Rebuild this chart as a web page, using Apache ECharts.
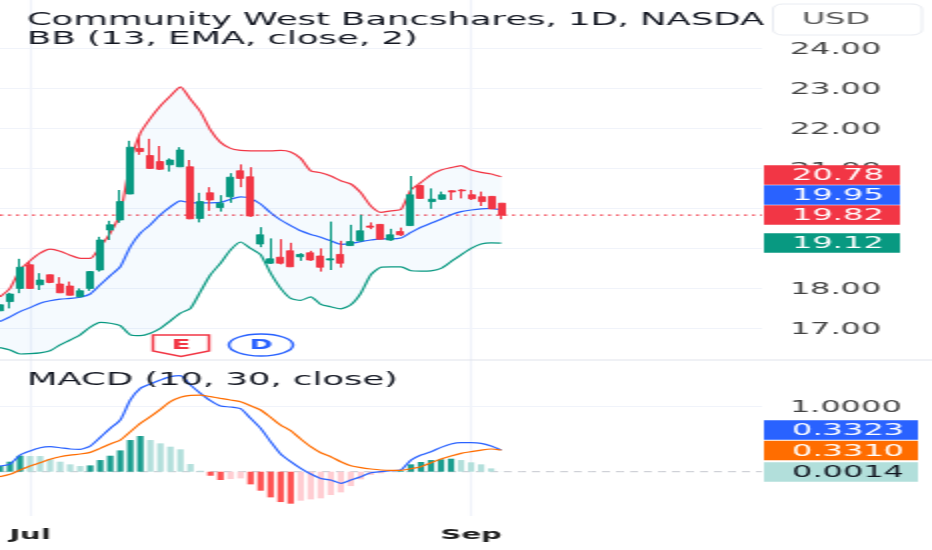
<!DOCTYPE html>
<html>
<head>
<meta charset="utf-8">
<style>
html,body{margin:0;padding:0;width:932px;height:550px;overflow:hidden;background:#fff}
#c{width:466px;height:550px;transform:scaleX(2);transform-origin:0 0}
</style>
<script src="https://cdn.jsdelivr.net/npm/echarts@6/dist/echarts.min.js"></script>
</head>
<body>
<div id="c"></div>
<script>
// [open, close, low, high]
const candles = [
[17.43,17.58,17.41,17.62],[17.66,17.85,17.49,17.88],[17.99,18.52,17.87,18.73],[18.58,17.99,17.99,18.66],
[18.08,18.20,17.95,18.37],[18.33,18.14,18.12,18.33],[18.10,17.88,17.88,18.27],[18.05,17.82,17.82,18.16],
[17.78,17.93,17.77,17.99],[17.99,18.41,17.93,18.42],[18.45,19.20,18.41,19.28],[19.45,19.58,19.20,19.68],
[19.70,20.16,19.63,20.45],[20.35,21.52,20.35,21.68],[21.49,21.41,21.33,21.83],[21.31,20.99,20.98,21.73],
[21.16,20.97,20.95,21.55],[21.08,21.20,20.91,21.24],[21.03,21.45,21.03,21.52],[21.03,19.73,19.72,21.20],
[19.74,20.16,19.64,20.38],[20.38,20.20,19.93,20.52],[20.01,20.12,19.91,20.32],[20.28,20.77,20.13,20.87],
[20.93,20.74,20.52,21.09],[20.78,19.80,19.78,21.02],[19.10,19.33,19.02,19.52],[18.62,18.73,18.60,19.24],
[18.77,18.62,18.59,19.22],[18.93,18.53,18.53,19.13],[18.78,18.84,18.68,18.87],[18.88,18.70,18.68,18.93],
[18.80,18.52,18.41,18.99],[18.70,18.73,18.45,19.66],[18.84,18.62,18.51,19.18],[19.06,19.16,19.06,19.58],
[19.18,19.43,19.16,19.83],[19.55,19.52,19.47,19.64],[19.59,19.22,19.22,19.60],[19.20,19.33,19.18,19.48],
[19.41,19.33,19.30,19.51],[19.56,20.33,19.56,20.80],[20.56,20.24,20.24,20.58],[20.16,20.22,19.98,20.49],
[20.22,20.33,20.20,20.41],[20.43,20.40,20.20,20.44],[20.45,20.43,20.24,20.47],[20.33,20.23,20.20,20.45],
[20.28,20.16,20.05,20.41],[20.29,19.98,19.97,20.30],[20.12,19.82,19.72,20.12]];
const bbUpper = [17.78,17.99,18.45,18.68,18.87,18.97,18.92,18.82,18.74,18.74,19.03,19.37,19.87,21.12,21.87,22.24,22.55,22.80,23.03,22.72,22.41,21.95,21.64,21.49,21.44,21.43,
21.43,21.43,21.44,21.40,21.24,20.93,20.88,20.80,20.68,20.60,20.38,20.05,19.89,19.93,19.96,20.45,20.64,20.83,20.95,21.01,21.06,20.95,20.89,20.85,20.78];
const bbBasis = [17.16,17.28,17.41,17.51,17.62,17.68,17.72,17.74,17.77,17.85,18.08,18.31,18.53,19.03,19.37,19.58,19.83,20.03,20.18,20.13,20.13,20.13,20.14,20.22,20.28,20.24,
20.10,19.88,19.70,19.56,19.43,19.34,19.27,19.18,19.09,19.11,19.16,19.20,19.23,19.23,19.25,19.39,19.52,19.62,19.72,19.83,19.91,19.95,19.98,19.99,19.95];
const bbLower = [16.51,16.45,16.35,16.36,16.38,16.43,16.58,16.70,16.83,17.02,17.14,17.12,17.06,16.83,16.81,16.87,16.99,17.18,17.37,17.49,17.91,18.33,18.62,18.95,19.15,18.99,
18.83,18.37,17.99,17.74,17.69,17.78,17.59,17.53,17.48,17.58,17.87,18.33,18.52,18.53,18.53,18.43,18.42,18.43,18.49,18.66,18.83,18.99,19.10,19.13,19.12];
const macdLine = [.087,.118,.256,.318,.369,.385,.369,.349,.344,.395,.528,.667,.795,1.103,1.282,1.349,1.41,1.462,1.477,1.333,1.205,1.092,1.01,.995,.969,.821,
.667,.462,.272,.154,.051,-.036,-.103,-.128,-.179,-.128,-.077,-.015,0,.015,.026,.179,.256,.308,.374,.426,.446,.446,.436,.395,.3323];
const signalLine = [-.077,-.041,.026,.087,.138,.19,.231,.256,.272,.297,.359,.426,.487,.615,.744,.846,.959,1.077,1.144,1.174,1.179,1.154,1.128,1.103,1.077,1.015,
.949,.836,.718,.631,.503,.385,.292,.231,.154,.092,.062,.041,.026,.021,.021,.046,.077,.138,.195,.241,.282,.308,.333,.349,.331];
const histogram = [.087,.154,.246,.241,.241,.19,.154,.113,.087,.097,.179,.246,.328,.487,.549,.487,.436,.385,.344,.118,.015,-.062,-.128,-.113,-.103,-.195,
-.292,-.395,-.467,-.492,-.446,-.426,-.41,-.359,-.318,-.221,-.118,-.051,-.026,-.005,.01,.113,.149,.179,.19,.2,.179,.144,.113,.051,.0014];
const monthTicks = {3:'Jul',47:'Sep'};
const lastPrice = 19.82;
const priceMin = 17, priceMax = 24, macdMin = 0, macdMax = 1;
const hiddenPriceTicks = [19, 20];
const priceTags = [['20.78',20.82,'#f23645'],['19.95',20.32,'#2962ff'],['19.82',19.82,'#f23645'],['19.12',19.12,'#089981']];
const macdTags = [['0.3323',.638,'#2962ff','#fff'],['0.3310',.323,'#ff6d00','#fff'],['0.0014',-.008,'#b2dfdb','#131722']];
const titleText = 'Community West Bancshares, 1D, NASDA';
const bbText = 'BB (13, EMA, close, 2)';
const macdText = 'MACD (10, 30, close)';

const slotCount = 77;
const categories = Array.from({length:slotCount},(_,i)=>String(i));
const FONT = '"DejaVu Sans"';
const GRID='#f0f3fa';
const isTick = i => monthTicks[i] !== undefined;
const histColor = i => {
  const v = histogram[i], p = i>0 ? histogram[i-1] : -9;
  if (v>=0) return v>p ? '#1a9e8f' : '#b2dfdb';
  return v<p ? '#ff5252' : '#ffcdd2';
};
const hideX = g => ({type:'category',gridIndex:g,data:categories,boundaryGap:false,show:false});
const line = (name,data,color,xi,yi,w,extra) => Object.assign({name,type:'line',data,xAxisIndex:xi,yAxisIndex:yi,symbol:'none',smooth:0.2,clip:false,
  lineStyle:{color,width:w},z:3,animation:false},extra||{});
const rowOf = (v) => Array(slotCount).fill(v);
const tickRich = {a:{padding:[3,0,0,0],color:'#444',fontFamily:FONT,fontSize:16}};

const chart = echarts.init(document.getElementById('c'));
chart.setOption({
  animation:false,
  backgroundColor:'#fff',
  grid:[
    {left:-1,width:381.9,top:48,height:280},
    {left:-1,width:381.9,top:406.7,height:65},
    {left:-1,width:381.9,top:0,height:516}
  ],
  xAxis:[hideX(0),hideX(1),{
    type:'category',gridIndex:2,data:categories,boundaryGap:false,
    axisLine:{show:false},axisTick:{show:false},
    splitLine:{show:true,interval:isTick,lineStyle:{color:GRID,width:1.2}},
    axisLabel:{interval:isTick,formatter:(v,i)=>monthTicks[i]||'',margin:12,color:'#222',fontFamily:FONT,fontSize:14.5,fontWeight:'bold'}
  }],
  yAxis:[
    {type:'value',gridIndex:0,position:'right',min:priceMin,max:priceMax,interval:1,scale:true,
      axisLine:{show:false},axisTick:{show:false},splitLine:{lineStyle:{color:GRID,width:1}},
      axisLabel:{margin:14,rich:tickRich,formatter:v=>hiddenPriceTicks.includes(v)?'':'{a|'+v.toFixed(2)+'}'}},
    {type:'value',gridIndex:1,position:'right',min:macdMin,max:macdMax,interval:1,
      axisLine:{show:false},axisTick:{show:false},splitLine:{showMinLine:false,lineStyle:{color:GRID,width:1}},
      axisLabel:{margin:14,showMinLabel:false,rich:tickRich,formatter:v=>'{a|'+v.toFixed(4)+'}'}},
    {type:'value',gridIndex:2,show:false,min:0,max:1}
  ],
  series:[
    line('bbBase',bbLower,'transparent',0,0,0,{stack:'bb'}),
    line('bbFill',bbUpper.map((u,i)=>u-bbLower[i]),'transparent',0,0,0,{stack:'bb',areaStyle:{color:'rgba(33,150,243,0.06)'}}),
    line('Upper',bbUpper,'#f23645',0,0,1.2),
    line('Basis',bbBasis,'#2962ff',0,0,1.2),
    line('Lower',bbLower,'#089981',0,0,1.2),
    line('Last price',rowOf(lastPrice),'#f23645',0,0,1,{smooth:false,z:2,lineStyle:{color:'#f23645',width:1.3,type:[1.5,2.5]}}),
    {name:'Price',type:'candlestick',xAxisIndex:0,yAxisIndex:0,data:candles,barWidth:3.5,clip:false,z:4,
      itemStyle:{color:'#089981',color0:'#f23645',borderColor:'#089981',borderColor0:'#f23645',borderWidth:1}},
    line('Zero',rowOf(0),'#c4c7ce',1,1,1,{smooth:false,z:1,lineStyle:{color:'#c4c7ce',width:1,type:[4,3]}}),
    {name:'Histogram',type:'bar',xAxisIndex:1,yAxisIndex:1,barWidth:3.2,clip:false,z:2,
      data:histogram.map((v,i)=>({value:v,itemStyle:{color:histColor(i)}}))},
    line('MACD',macdLine,'#2962ff',1,1,1.2),
    line('Signal',signalLine,'#ff6d00',1,1,1.2)
  ]
});

function txt(t,x,y,fill,size,extra){
  return Object.assign({type:'text',x,y,z:20,style:{text:t,fill,font:size+'px '+FONT,textVerticalAlign:'middle',verticalAlign:'middle'}},extra||{});
}
function tagGroup(t,y,fill,tc,right){
  return [
    {type:'rect',z:18,shape:{x:382,y:y-10,width:right-382,height:19.6},style:{fill}},
    txt(t,396,y+1,tc,16)
  ];
}
const g=[];
g.push({type:'line',z:1,shape:{x1:0,y1:360,x2:466,y2:360},style:{stroke:'#e0e3eb',lineWidth:1}});
g.push(txt(titleText,13.5,20,'#131722',17.7));
g.push(txt(bbText,13.5,39,'#131722',17.7));
g.push(txt(macdText,13.5,380.5,'#131722',17.7));
g.push({type:'rect',z:18,shape:{x:386.5,y:4,width:74.5,height:31,r:5},style:{fill:'#fff',stroke:'#e9ecf2',lineWidth:1}});
g.push({type:'text',x:418,y:20,z:20,style:{text:'USD',fill:'#555',font:'16px '+FONT,textAlign:'center',textVerticalAlign:'middle',verticalAlign:'middle'}});
priceTags.forEach(p=>g.push(...tagGroup(p[0],chart.convertToPixel({yAxisIndex:0},p[1]),p[2],'#fff',450)));
macdTags.forEach(p=>g.push(...tagGroup(p[0],chart.convertToPixel({yAxisIndex:1},p[1]),p[2],p[3],459)));
g.push({type:'polygon',z:18,shape:{points:[[76.5,335],[104.5,335],[104.5,351],[90.5,356.5],[76.5,351]]},style:{fill:'#fff',stroke:'#f23645',lineWidth:1.4}});
g.push({type:'text',x:90.5,y:345.5,z:20,style:{text:'E',fill:'#f23645',font:'bold 14px '+FONT,textAlign:'center',textVerticalAlign:'middle',verticalAlign:'middle'}});
g.push({type:'ellipse',z:18,shape:{cx:130.5,cy:345,rx:16,ry:11},style:{fill:'#fff',stroke:'#2962ff',lineWidth:1.4}});
g.push({type:'text',x:130.5,y:345.5,z:20,style:{text:'D',fill:'#2962ff',font:'bold 14px '+FONT,textAlign:'center',textVerticalAlign:'middle',verticalAlign:'middle'}});
chart.setOption({graphic:{elements:g}});
</script>
</body>
</html>
